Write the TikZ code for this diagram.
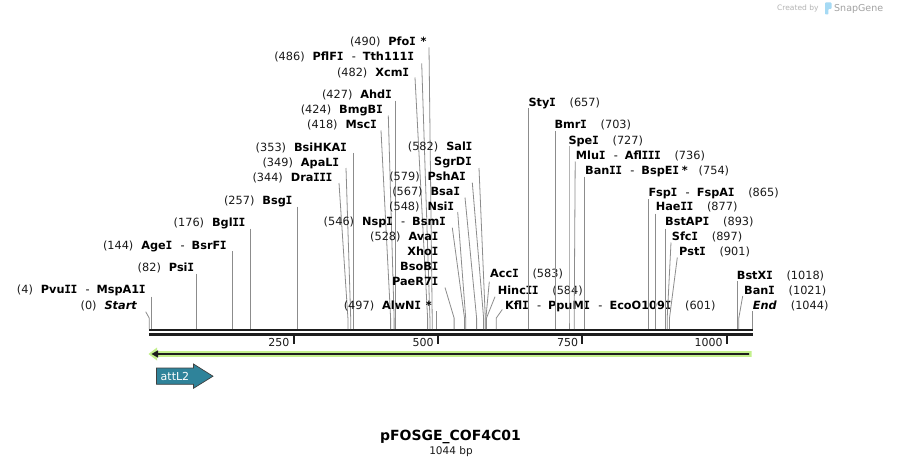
\documentclass[tikz,border=0pt]{standalone}
\usepackage{fontspec}
\setmainfont{DejaVu Sans}
\newfontfamily\serifIfont{DejaVu Sans Mono}
\usetikzlibrary{calc}
\definecolor{numc}{HTML}{1A1A1A}
\definecolor{connc}{HTML}{8C8C8C}
\definecolor{bbc}{HTML}{1E1E1E}
\definecolor{featgreen}{HTML}{C3F08C}
\definecolor{attfill}{HTML}{2F839A}
\definecolor{wmgray}{HTML}{B4B4B4}
\definecolor{wmblue}{HTML}{A6DAF4}
\newcommand\enzsep{\hspace{8.5pt}{\mdseries -}\hspace{7pt}}
\newcommand\enznum[1]{{\mdseries\color{numc}(#1)}}
\newcommand\sI{\kern-0.3pt{\serifIfont\bfseries I}\kern-0.3pt}
\tikzset{
  lab/.style={inner sep=0pt, font=\fontsize{11.3}{13}\selectfont, text=black},
  conn/.style={draw=connc, line width=0.8pt},
  ticklab/.style={inner sep=0pt, font=\fontsize{11}{13}\selectfont, text=numc},
}
% left label with connector: id, R, Y, text, ax, ay, xp
\newcommand\mkL[7]{%
  \node[lab, anchor=base east] (#1) at (#2,#3+4) {#4};
  \coordinate (#1a) at (#5,#6);
  \coordinate (#1b) at (#7,318);
  \coordinate (#1c) at (#7,329);
  \draw[conn] (#1a) -- (#1b) -- (#1c);
}
% right label with connector: id, L, Y, text, ax, ay, xp
\newcommand\mkR[7]{%
  \node[lab, anchor=base west] (#1) at (#2,#3+4) {#4};
  \coordinate (#1a) at (#5,#6);
  \coordinate (#1b) at (#7,318);
  \coordinate (#1c) at (#7,329);
  \draw[conn] (#1a) -- (#1b) -- (#1c);
}
% left label without connector
\newcommand\mkN[4]{%
  \node[lab, anchor=base east] (#1) at (#2,#3+4) {#4};
}
\begin{document}
\begin{tikzpicture}[x=1pt,y=-1pt]
\fill[white] (0,0) rectangle (902,468);
\useasboundingbox (0,0) rectangle (902,468);

% backbone
\coordinate (bbL1) at (149,330);
\coordinate (bbR1) at (752.5,330);
\coordinate (bbL2) at (149,334.5);
\coordinate (bbR2) at (752.5,334.5);
\draw[bbc, line width=2pt] (bbL1) -- (bbR1);
\draw[bbc, line width=2.4pt] (bbL2) -- (bbR2);

% ticks
\foreach \v/\x in {250/293.6, 500/437.9, 750/582.3, 1000/726.7}{
  \coordinate (t\v a) at (\x,335.5);
  \coordinate (t\v b) at (\x,344);
  \draw[bbc, line width=2pt] (t\v a) -- (t\v b);
  \node[ticklab, anchor=base east] (tl\v) at (\x-4,346) {\v};
}

% left labels
\mkL{s0}{137.3}{305.3}{\enznum{0}\hspace{8pt}\textbf{\textit{Start}}}{145.7}{311.7}{149.2}
\mkL{s4}{145.7}{289.3}{\enznum{4}\hspace{8pt}\textbf{Pvu\sI\sI}\enzsep\textbf{MspA1\sI}}{151.5}{296.5}{151.5}
\mkL{s82}{194}{267.3}{\enznum{82}\hspace{8pt}\textbf{Psi\sI}}{196.6}{273.5}{196.6}
\mkL{s144}{226.7}{245}{\enznum{144}\hspace{8pt}\textbf{Age\sI}\enzsep\textbf{BsrF\sI}}{232.4}{251.3}{232.4}
\mkL{s176}{245.3}{222.7}{\enznum{176}\hspace{8pt}\textbf{Bgl\sI\sI}}{250.8}{228.5}{250.8}
\mkL{s257}{292.3}{200}{\enznum{257}\hspace{8pt}\textbf{Bsg\sI}}{297.6}{206.5}{297.6}
\mkL{s344}{332.3}{177}{\enznum{344}\hspace{8pt}\textbf{Dra\sI\sI\sI}}{339}{183}{347.9}
\mkL{s349}{339}{162.3}{\enznum{349}\hspace{8pt}\textbf{ApaL\sI}}{346}{168}{350.7}
\mkL{s353}{346.7}{147.3}{\enznum{353}\hspace{8pt}\textbf{BsiHKA\sI}}{353.1}{153}{353.1}
\mkL{s418}{376.7}{125}{\enznum{418}\hspace{8pt}\textbf{Msc\sI}}{381}{130.5}{390.6}
\mkL{s424}{382.7}{110}{\enznum{424}\hspace{8pt}\textbf{BmgB\sI}}{388.3}{115.5}{394.1}
\mkL{s427}{391.7}{95}{\enznum{427}\hspace{8pt}\textbf{Ahd\sI}}{395.8}{100.7}{395.8}
\mkL{s482}{409}{72.3}{\enznum{482}\hspace{8pt}\textbf{Xcm\sI}}{415}{77.5}{427.6}
\mkL{s486}{414}{56.7}{\enznum{486}\hspace{8pt}\textbf{PflF\sI}\enzsep\textbf{Tth111\sI}}{421.7}{63.3}{429.9}
\mkL{s490}{426.7}{41.7}{\enznum{490}\hspace{8pt}\textbf{Pfo\sI\hspace{5pt}*}}{429}{47.3}{432.2}
\mkL{s497}{432}{305}{\enznum{497}\hspace{8pt}\textbf{AlwN\sI\hspace{5pt}*}}{436.2}{311}{436.2}
\mkL{s528d}{438.3}{281.7}{\textbf{PaeR7\sI}}{445}{287.5}{454.1}
\mkN{s528c}{438.3}{266.3}{\textbf{BsoB\sI}}
\mkN{s528b}{438.3}{251.3}{\textbf{Xho\sI}}
\mkN{s528a}{438.3}{236}{\enznum{528}\hspace{8pt}\textbf{Ava\sI}}
\mkL{s546}{445.7}{221.7}{\enznum{546}\hspace{8pt}\textbf{Nsp\sI}\enzsep\textbf{Bsm\sI}}{452.3}{227.7}{464.5}
\mkL{s548}{454}{206.7}{\enznum{548}\hspace{8pt}\textbf{Nsi\sI}}{457.7}{212}{465.7}
\mkL{s567}{460}{191.7}{\enznum{567}\hspace{8pt}\textbf{Bsa\sI}}{465}{197.5}{476.6}
\mkL{s579}{465.7}{176.7}{\enznum{579}\hspace{8pt}\textbf{PshA\sI}}{472.3}{182.7}{483.6}
\mkL{s582b}{471.7}{161.7}{\textbf{SgrD\sI}}{479}{168}{485.3}
\mkN{s582a}{472.3}{146.3}{\enznum{582}\hspace{8pt}\textbf{Sal\sI}}

% right labels
\mkR{s583}{490}{273.3}{\textbf{Acc\sI}\hspace{14pt}\enznum{583}}{489.3}{281.7}{485.9}
\mkR{s584}{497.7}{290}{\textbf{Hinc\sI\sI}\hspace{14pt}\enznum{584}}{495}{296.7}{486.5}
\mkR{s601}{505}{305}{\textbf{Kfl\sI}\enzsep\textbf{PpuM\sI}\enzsep\textbf{EcoO109\sI}\hspace{14pt}\enznum{601}}{502.3}{309.5}{496.3}
\mkR{s657}{528.3}{102.3}{\textbf{Sty\sI}\hspace{14pt}\enznum{657}}{528.6}{108.5}{528.6}
\mkR{s703}{554.3}{124.7}{\textbf{Bmr\sI}\hspace{14pt}\enznum{703}}{555.2}{131}{555.2}
\mkR{s727}{568.3}{140}{\textbf{Spe\sI}\hspace{14pt}\enznum{727}}{569}{146.5}{569}
\mkR{s736}{575.7}{155}{\textbf{Mlu\sI}\enzsep\textbf{Afl\sI\sI\sI}\hspace{14pt}\enznum{736}}{575.2}{161.5}{574.2}
\mkR{s754}{585}{170}{\textbf{Ban\sI\sI}\enzsep\textbf{BspE\sI\hspace{3pt}*}\hspace{11pt}\enznum{754}}{584.6}{176.5}{584.6}
\mkR{s865}{648.3}{192.3}{\textbf{Fsp\sI}\enzsep\textbf{FspA\sI}\hspace{14pt}\enznum{865}}{648.7}{199}{648.7}
\mkR{s877}{655.7}{206.7}{\textbf{Hae\sI\sI}\hspace{14pt}\enznum{877}}{655.7}{213.5}{655.7}
\mkR{s893}{665}{221.7}{\textbf{BstAP\sI}\hspace{14pt}\enznum{893}}{664.9}{228.5}{664.9}
\mkR{s897}{671.7}{236.7}{\textbf{Sfc\sI}\hspace{14pt}\enznum{897}}{671}{242.5}{667.2}
\mkR{s901}{679}{251.7}{\textbf{Pst\sI}\hspace{14pt}\enznum{901}}{677.3}{257.5}{669.5}
\mkR{s1018}{736.7}{275}{\textbf{BstX\sI}\hspace{14pt}\enznum{1018}}{737.1}{281}{737.1}
\mkR{s1021}{744}{290}{\textbf{Ban\sI}\hspace{14pt}\enznum{1021}}{742.7}{296}{738.8}
\mkR{s1044}{752.7}{305}{\textbf{\textit{End}}\hspace{14pt}\enznum{1044}}{752.1}{311}{752.1}

% green feature arrow (reverse strand)
\fill[featgreen] (148.5,354) -- (157,347.5) -- (157,351.2) -- (751.5,351.2) -- (751.5,356.8) -- (157,356.8) -- (157,360.5) -- cycle;
\fill[bbc] (151.5,354) -- (158,350.3) -- (158,353.1) -- (749,353.1) -- (749,354.9) -- (158,354.9) -- (158,357.7) -- cycle;

% attL2 feature
\draw[fill=attfill, draw=black!75, line width=0.7pt]
  (156.5,368) -- (193.5,368) -- (193.5,364) -- (213,376.2) -- (193.5,388.3) -- (193.5,384.3) -- (156.5,384.3) -- cycle;
\node[inner sep=0pt, anchor=base west, text=white, font=\fontsize{11}{13}\selectfont] (attl2) at (160.5,380) {attL2};

% title
\node[inner sep=0pt, font=\bfseries\fontsize{14}{16}\selectfont] (title) at (450.5,437) {pFOSGE\_COF4C01};
\node[inner sep=0pt, font=\fontsize{10.5}{12}\selectfont, text=numc] (bp) at (451,452) {1044 bp};

% watermark
\node[inner sep=0pt, anchor=base west, text=wmgray, font=\fontsize{7.5}{9}\selectfont] (wm1) at (777,11) {Created by};
\fill[wmblue, rounded corners=0.8pt] (825,2.5) -- (831.5,2.5) -- (831.5,9) -- (828.3,9) -- (828.3,14.5) -- (825,14.5) -- cycle;
\node[inner sep=0pt, anchor=base west, text=wmgray!90!black, font=\fontsize{9.5}{11}\selectfont] (wm2) at (834,12) {SnapGene};
\end{tikzpicture}
\end{document}
